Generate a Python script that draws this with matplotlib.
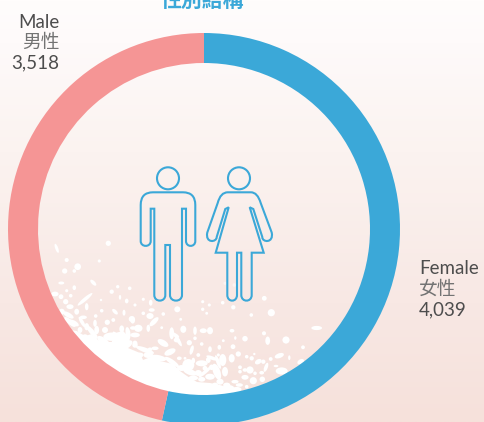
import numpy as np
import matplotlib
matplotlib.use('Agg')
import matplotlib.pyplot as plt
from matplotlib.colors import LinearSegmentedColormap
from matplotlib.patches import Ellipse, PathPatch, Polygon, Circle
from matplotlib.path import Path

# data
genders = ['Female', 'Male']
counts = [4039, 3518]
colors = ['#3ba8d8', '#f59595']
title = '性別結構'

TEXT_COL = '#4d4d4d'
CJK_COL = '#737373'
BLUE = '#3ba8d8'

# decoration, pixel coords of the 484x422 picture
# x, y, width, height, angle
blobs = [
    (108.3, 243.3, 4.4, 4.4, 0), (56.7, 248.3, 2.5, 8, -20), (66.7, 260, 3.4, 3.4, 0),
    (77.7, 266.7, 5.6, 5.6, 0), (99.3, 261, 2.6, 2.6, 0), (64.7, 271, 4.4, 4.4, 0),
    (74.3, 271, 3, 3, 0), (61.3, 283, 5, 2.5, 0), (93.3, 282.7, 6.5, 3, 45),
    (74.3, 287.7, 3, 4, 0), (66.7, 290.7, 2.6, 2.6, 0), (55, 294, 6, 4, 0),
    (111.7, 291.7, 3.6, 3.6, 0), (117.7, 286.7, 2.8, 2.8, 0), (129.7, 288.3, 3, 3, 0),
    (61, 296.7, 4, 4, 0), (70.7, 295.7, 3, 3, 0), (65.7, 301.7, 4.4, 4.4, 0),
    (101, 300, 2, 2, 0), (120, 297.3, 2, 4, 0), (126.7, 301, 3, 4, 0),
    (135, 305, 2.6, 2.6, 0), (85, 299.3, 16, 3, -40), (86.7, 306.7, 3, 6, 0),
    (70, 306.7, 6, 4, 0), (61.7, 311.7, 5, 5, 0), (68.3, 315, 10, 4, 30),
    (76.7, 311.7, 4, 5, 0), (83.3, 317.3, 6, 3, 0), (101.7, 310.7, 3, 3, 0),
    (115, 311.7, 6, 3, 45), (124, 312.7, 2.5, 5, 0), (131.7, 319, 5, 5, 0),
    (95.7, 316, 3, 3, 0), (95, 323.3, 3, 6, 0), (107.3, 322.3, 4.4, 4.4, 0),
    (113.3, 320, 3.2, 3.2, 0), (74, 323, 9, 4, 30), (86.7, 326.7, 4, 6, 0),
    (80, 330, 4, 5, 0), (96.7, 330, 4, 7, 0), (105, 330, 5, 5, 0),
    (121.7, 329, 4, 6, 0), (133, 328, 5, 3, 0), (111.7, 336.7, 14, 7, 0),
    (93.3, 338, 6, 5, 0), (85, 336.7, 5, 4, 0), (135, 343, 4, 4, 0),
    (177.3, 309.3, 5, 5, 0), (143.3, 299.3, 2.6, 2.6, 0), (150.7, 302.7, 3, 5, 0),
    (202.7, 301.7, 2.6, 2.6, 0), (209.3, 305, 2.6, 2.6, 0), (222.7, 302.7, 3, 3, 0),
    (202.7, 309.3, 2.8, 2.8, 0), (206.7, 313.3, 2.4, 2.4, 0), (143.3, 313.3, 3, 3, 0),
    (151.7, 310, 5, 3, 0), (150, 316, 6, 5, 0), (163.3, 314, 3, 3, 0),
    (132.7, 320, 4, 6, 0), (154, 321.7, 10, 4, -45), (138.3, 328.3, 7, 6, 0),
    (148.3, 328.3, 3, 6, 0), (161.7, 327.7, 2.4, 2.4, 0), (180.7, 319.3, 2.4, 2.4, 0),
    (171.7, 333.3, 4, 10, 0), (175, 335, 8, 3, 30), (183.3, 329.3, 5, 6, 0),
    (195, 330.7, 3, 7, 0), (203.3, 330.7, 6, 4, 0), (210, 330.7, 5, 6, 0),
    (135, 335, 8, 4, 0), (189.3, 342.7, 4.4, 4.4, 0), (176.7, 340, 5, 4, 0),
    (195, 338.3, 3, 3, 0), (201.7, 344, 3, 3, 0), (223.3, 340.7, 2.4, 2.4, 0),
    (210, 349.3, 3, 5, 0), (219.3, 347.3, 3, 4, 0), (135, 345, 4.6, 4.6, 0),
    (163, 343, 10, 5, 30), (155, 348.3, 6, 3, 0), (150, 349.3, 4, 3, 0),
    (170, 352, 10, 5, -25), (191.7, 350, 3, 8, 15), (140, 355, 6, 4, 0),
    (148.3, 355, 8, 5, 0), (179.3, 358.3, 4, 3, 0), (185, 358.3, 2.4, 2.4, 0),
    (198.3, 355, 3.2, 3.2, 0), (193.3, 360.7, 3, 5, 0), (201.7, 363.3, 10, 5, 0),
    (208.3, 360, 4, 5, 0), (218.3, 355, 2.6, 2.6, 0), (222.7, 360, 6, 10, 0),
    (211.7, 367.3, 4.6, 4.6, 0), (205, 368.3, 4, 4, 0), (188.3, 365, 10, 10, 45),
    (181.7, 368, 8, 5, 0), (198.3, 373, 6, 5, 0), (216.7, 371.7, 6, 14, -20),
    (225, 371.7, 5, 8, 0), (210, 376.7, 8, 5, 0), (201.7, 379.3, 6, 4, 0),
    (193.3, 378, 8, 4, 0), (220, 381.7, 6, 5, 0), (226.7, 385, 6, 4, 0),
    (215, 385, 5, 4, 0),
    (264.3, 298.3, 4, 4, 0), (233.3, 307.3, 3.6, 3.6, 0), (271.3, 312.7, 6, 6, 0),
    (251.3, 315, 3, 3, 0), (316.7, 328, 9, 3.5, 0), (232, 330.7, 4, 3, 0),
    (264, 333.3, 3.4, 3.4, 0), (245, 338.7, 4.6, 4.6, 0), (235.3, 338, 2, 3, 0),
    (267.7, 340.7, 4, 7, 0), (286, 340, 6, 6, 0), (233, 346.7, 4, 4, 0),
    (303, 347.3, 3.2, 3.2, 0), (279.3, 355.7, 8, 4, -20), (238.3, 354, 4.4, 4.4, 0),
    (246.7, 356.7, 3, 3, 0), (251.7, 358.3, 3.6, 3.6, 0), (254.3, 354, 2, 2, 0),
    (270.7, 359, 3.2, 3.2, 0), (289.3, 357.7, 2, 4, 0), (258.3, 361.7, 6, 4, -30),
    (263.3, 361.7, 3.6, 3.6, 0), (300.7, 361.7, 6, 4, -30), (231.7, 358.3, 5, 7, 0),
    (240, 367.3, 3.2, 3.2, 0), (245, 370, 4, 3, 0), (250, 370, 6, 6, 0),
    (240, 371.7, 3, 3, 0), (266, 367.3, 3, 8, 20), (276, 366, 4, 2, 0),
    (261.7, 372.7, 4, 3, 0), (281.7, 371, 10, 6, 0), (245, 377.3, 6, 4, 0),
    (255, 373.3, 3, 3, 0), (235, 381.7, 6, 3, 0), (253.3, 380.7, 6, 6, 0),
    (262.3, 379.3, 4.6, 4.6, 0), (236.7, 389.3, 8, 4, 0), (246.7, 386.7, 3, 3, 0),
    (239.3, 385, 6, 3, 0), (228.3, 388, 10, 5, 0),
    # extra streaks joining the dense part
    (118, 340, 16, 5, 60), (126, 345, 12, 6, -30), (104, 342, 14, 6, 40),
    (92, 332, 14, 4, 50), (145, 350, 16, 4, 20), (158, 358, 14, 5, 10),
    (172, 362, 14, 4, 35), (178, 340, 12, 3, 60), (205, 372, 14, 3, -40),
    (218, 362, 12, 3, 70), (212, 358, 10, 3, 20), (190, 372, 12, 5, 20),
    (70, 322, 12, 4, 40), (82, 322, 10, 3, 60), (128, 333, 10, 4, 80),
]

# white patch along the bottom of the inner circle
crescent = [
    (76.7, 331), (85, 336), (91.7, 334), (100, 342), (111.7, 342), (115, 333),
    (123, 331), (130, 338), (128, 348), (140, 353), (143, 360), (153, 356),
    (160, 361), (173, 364), (180, 371), (187, 376), (197, 382), (210, 383),
    (220, 385), (230, 388), (240, 391), (240, 400), (200, 400), (150, 392),
    (108, 375), (80, 345), (70, 330),
]


def build_path(segments):
    verts = []
    codes = []
    for seg in segments:
        if len(seg) == 1:
            verts.append(seg[0])
            codes.append(Path.MOVETO if not verts[:-1] else Path.LINETO)
        elif len(seg) == 2:
            verts += list(seg)
            codes += [Path.CURVE3, Path.CURVE3]
        else:
            verts += list(seg)
            codes += [Path.CURVE4, Path.CURVE4, Path.CURVE4]
    verts.append(verts[0])
    codes.append(Path.CLOSEPOLY)
    return Path(verts, codes)


man = [
    [(153, 192.3)], [(183, 192.3)], [(195.3, 192.3), (195.3, 205)], [(195.3, 241)],
    [(195.3, 247.5), (186, 247.5), (186, 241)], [(186, 208.7)], [(182, 208.7)], [(182, 295)],
    [(182, 302.5), (170, 302.5), (170, 295)], [(170, 245)], [(165.3, 245)], [(165.3, 295)],
    [(165.3, 302.5), (154.3, 302.5), (154.3, 295)], [(154.3, 208.7)], [(150.7, 208.7)], [(150.7, 241)],
    [(150.7, 247.5), (140.7, 247.5), (140.7, 241)], [(140.7, 205)], [(140.7, 192.3), (153, 192.3)],
]

woman = [
    [(227.7, 192.3)], [(251, 192.3)], [(257.5, 192.3), (260.7, 203)], [(271.7, 232.5)],
    [(274, 243.5), (262, 242.5), (262.3, 237)], [(253.3, 209)], [(249.7, 207.3)], [(263.7, 252.7)],
    [(251.7, 252.7)], [(251.7, 295)], [(251.7, 302.5), (241.3, 302.5), (241.3, 295)], [(241.3, 252.7)],
    [(237, 252.7)], [(237, 295)], [(237, 302.5), (227.3, 302.5), (227.3, 295)], [(227.3, 252.7)],
    [(215.7, 252.7)], [(228.7, 207.3)], [(225.3, 209)], [(216.7, 237)],
    [(216.7, 242.5), (205, 243.5), (207.3, 232.5)], [(217.7, 203)], [(220.5, 192.3), (227.7, 192.3)],
]

fig = plt.figure(figsize=(4.84, 4.22), dpi=100)
ax = fig.add_axes([0, 0, 1, 1])

# background gradient
bg = LinearSegmentedColormap.from_list('bg', [(0, '#fffdfc'), (0.1, '#fefafa'), (0.36, '#fbf3f0'),
                                              (0.72, '#f8e8e4'), (1, '#f6e1db')])
ax.imshow(np.linspace(0, 1, 256).reshape(-1, 1), cmap=bg, aspect='auto', extent=[0, 484, 422, 0])
ax.set_xlim(0, 484)
ax.set_ylim(422, 0)
ax.axis('off')

ax.add_patch(Polygon(crescent, closed=True, fc='white', ec='none'))
for x, y, w, h, a in blobs:
    ax.add_patch(Ellipse((x, y), w * 1.2, h * 1.2, angle=a, fc='white', ec='none'))
ax.add_patch(Circle((225, 283.3), 1.6, fc='white', ec='none', alpha=0.5))
ax.add_patch(Circle((234.3, 285), 1.8, fc='white', ec='none', alpha=0.5))

# the two figures
for shape in [man, woman]:
    ax.add_patch(PathPatch(build_path(shape), fc='none', ec=BLUE, lw=1.5, joinstyle='miter'))
ax.add_patch(Circle((168, 178.3), 11, fc='none', ec=BLUE, lw=1.5))
ax.add_patch(Circle((239, 178.3), 11, fc='none', ec=BLUE, lw=1.5))

ax.text(202, 6.5, title, ha='center', va='baseline', fontsize=15, fontweight='bold',
        color=BLUE, family='Noto Sans CJK TC')

label_font = dict(fontsize=13.5, color=TEXT_COL, family='Lato')
cjk_font = dict(fontsize=13.5, color=CJK_COL, family='Noto Sans CJK TC')
ax.text(59.5, 22, 'Male', ha='right', va='center', **label_font)
ax.text(59.5, 42, '男性', ha='right', va='center', **cjk_font)
ax.text(59.5, 63, f'{counts[1]:,}', ha='right', va='center', **label_font)
ax.text(419, 269, 'Female', ha='left', va='center', **label_font)
ax.text(419, 289, '女性', ha='left', va='center', **cjk_font)
ax.text(419, 310, f'{counts[0]:,}', ha='left', va='center', **label_font)

# ring, in its own axes so that the pie keeps its direction
ax2 = fig.add_axes([8 / 484, (422 - 425) / 422, 392 / 484, 392 / 422])
ax2.patch.set_alpha(0)
ax2.pie(counts, colors=colors, startangle=90, counterclock=False, radius=1,
        wedgeprops=dict(width=30 / 196, linewidth=0))
ax2.set_xlim(-1, 1)
ax2.set_ylim(-1, 1)

fig.savefig('out.png', dpi=100)
